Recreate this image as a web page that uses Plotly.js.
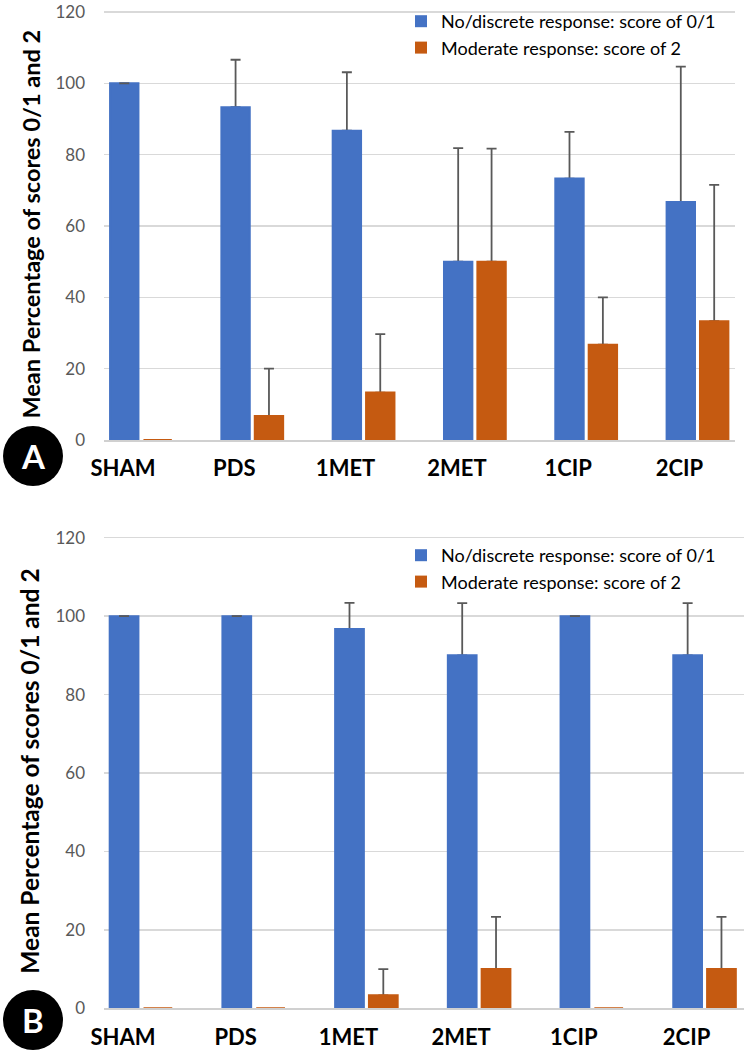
<!DOCTYPE html>
<html>
<head>
<meta charset="utf-8">
<script src="https://cdn.plot.ly/plotly-3.0.1.min.js"></script>
<style>
  html, body { margin: 0; padding: 0; background: #fff; }
  #chart { width: 744px; height: 1050px; }
</style>
</head>
<body>
<div id="chart"></div>
<script>
// groups on the x axis
const categories = ["SHAM", "PDS", "1MET", "2MET", "1CIP", "2CIP"];
const seriesNames = ["No/discrete response: score of 0/1", "Moderate response: score of 2"];

// panel A (null = no error bar drawn)
const aNoResponse = [100, 93.3, 86.7, 50, 73.3, 66.7];
const aNoResponseErr = [0, 13.3, 16.4, 31.8, 13.1, 38.0];
const aModerate = [0, 6.7, 13.3, 50, 26.7, 33.3];
const aModerateErr = [null, 13.3, 16.4, 31.7, 13.3, 38.2];

// panel B
const bNoResponse = [100, 100, 96.7, 90, 100, 90];
const bNoResponseErr = [0, 0, 6.7, 13.3, 0, 13.3];
const bModerate = [0, 0, 3.3, 10, 0, 10];
const bModerateErr = [null, null, 6.7, 13.3, null, 13.3];

const yTicks = [0, 20, 40, 60, 80, 100, 120];
const yTitle = "Mean Percentage of scores 0/1 and 2";

const blue = "#4472C4";
const orange = "#C55A11";
const font = "Lato, 'Open Sans', sans-serif";

// upper error bars only; NaN means no bar at that point
function errBars(arr, upperOnly) {
    const up = arr.map(v => (v === null ? NaN : v));
    return {
        type: "data", symmetric: !upperOnly, array: up,
        arrayminus: upperOnly ? up.map(v => (isNaN(v) ? NaN : 0)) : undefined,
        color: "#595959", thickness: 1.8, width: 5
    };
}

// bars carrying the error bars (drawn first)
function barTrace(name, values, errs, color, xa, ya, legend) {
    return {
        type: "bar", name: name, x: categories, y: values,
        xaxis: xa, yaxis: ya, legend: legend,
        marker: { color: color },
        error_y: errBars(errs, true),
        hoverinfo: "x+y"
    };
}

// same bars on an overlaid axis, hiding the lower cap of each error bar
function coverTrace(values, errs, color, xa, ya) {
    return {
        type: "bar", x: categories, y: values,
        xaxis: xa, yaxis: ya, showlegend: false,
        marker: { color: color, line: { color: color, width: 2 } },
        error_y: errBars(errs.map(e => (e === 0 ? 0 : null)), false),
        hoverinfo: "skip"
    };
}

const traces = [
    barTrace(seriesNames[0], aNoResponse, aNoResponseErr, blue, "x", "y", "legend"),
    barTrace(seriesNames[1], aModerate, aModerateErr, orange, "x", "y", "legend"),
    barTrace(seriesNames[0], bNoResponse, bNoResponseErr, blue, "x2", "y2", "legend2"),
    barTrace(seriesNames[1], bModerate, bModerateErr, orange, "x2", "y2", "legend2"),
    coverTrace(aNoResponse, aNoResponseErr, blue, "x", "y3"),
    coverTrace(aModerate, aModerateErr, orange, "x", "y3"),
    coverTrace(bNoResponse, bNoResponseErr, blue, "x2", "y4"),
    coverTrace(bModerate, bModerateErr, orange, "x2", "y4")
];

function xAxis(domain, range, anchor) {
    return {
        domain: domain, range: range, anchor: anchor, type: "category",
        showgrid: false, showline: true, linecolor: "#D0D0D0", linewidth: 2,
        ticks: "", ticklabelshift: -18, ticklabelstandoff: 8,
        tickfont: { family: font, size: 22, color: "#000", weight: "bold" },
        fixedrange: true
    };
}

function yAxis(domain, anchor, titleSize) {
    return {
        domain: domain, anchor: anchor, range: [0, 121],
        tickvals: yTicks, ticktext: yTicks.map(String),
        showgrid: true, gridcolor: "#D9D9D9", gridwidth: 1.5,
        zeroline: false, showline: false, ticks: "",
        ticklabelstandoff: 18, ticklabeloverflow: "allow",
        tickfont: { family: font, size: 17, color: "#595959" },
        title: {
            text: yTitle,
            font: { family: font, size: titleSize, color: "#000", weight: "bold" },
            standoff: 8
        },
        fixedrange: true
    };
}

function coverAxis(base) {
    return {
        overlaying: base, range: [0, 121], visible: false,
        showgrid: false, zeroline: false, fixedrange: true
    };
}

function legendBox(yTop) {
    return {
        x: 401 / 744, xanchor: "left", y: yTop, yanchor: "top",
        bgcolor: "rgba(0,0,0,0)", itemwidth: 30,
        font: { family: font, size: 18, color: "#000" },
        itemclick: false, itemdoubleclick: false
    };
}

function badge(letter, cy) {
    return {
        xref: "paper", yref: "paper", x: 33 / 744, y: 1 - cy / 1050,
        xanchor: "center", yanchor: "middle",
        text: letter, showarrow: false,
        font: { family: font, size: 33, color: "#fff", weight: "bold" }
    };
}

function badgeCircle(cy) {
    return {
        type: "circle", xref: "paper", yref: "paper",
        x0: 3 / 744, x1: 63 / 744,
        y0: 1 - (cy + 30) / 1050, y1: 1 - (cy - 30) / 1050,
        fillcolor: "#000", line: { width: 0 }, layer: "above"
    };
}

const layout = {
    width: 744, height: 1050,
    margin: { l: 0, r: 0, t: 0, b: 0 },
    paper_bgcolor: "#fff", plot_bgcolor: "#fff",
    barmode: "group", bargap: 0.4, bargroupgap: 0.15,
    font: { family: font },
    xaxis: xAxis([104 / 744, 735 / 744], [-0.332, 5.337], "y"),
    yaxis: yAxis([1 - 440 / 1050, 1 - 8.4 / 1050], "x", 23.5),
    yaxis3: coverAxis("y"),
    xaxis2: xAxis([104 / 744, 1], [-0.328, 5.35], "y2"),
    yaxis2: yAxis([1 - 1008.3 / 1050, 1 - 533.8 / 1050], "x2", 24.5),
    yaxis4: coverAxis("y2"),
    legend: legendBox(1 - 3 / 1050),
    legend2: legendBox(1 - 537 / 1050),
    shapes: [badgeCircle(456), badgeCircle(1020)],
    annotations: [badge("A", 456), badge("B", 1020)]
};

Plotly.newPlot("chart", traces, layout, { displayModeBar: false, staticPlot: true });
</script>
</body>
</html>
